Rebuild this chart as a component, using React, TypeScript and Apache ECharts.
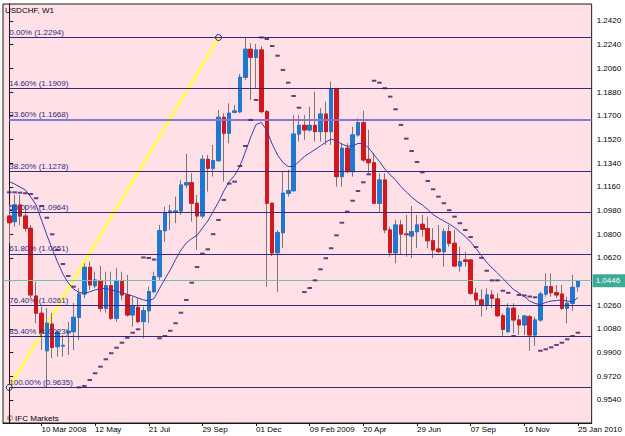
import React, { useEffect, useRef } from 'react';
import * as echarts from 'echarts';

// Weekly USDCHF bars, index 0..106
const opens = [
  1.0938, 1.0895, 1.1022, 1.0938, 1.0845, 1.0330, 1.0199, 0.9914, 1.0117, 0.9945,
  0.9950, 1.0051, 1.0059, 1.0168, 1.0345, 1.0548, 1.0408, 1.0446, 1.0237, 1.0408,
  1.0161, 1.0446, 1.0338, 1.0186, 1.0244, 1.0135, 1.0218, 1.0363, 1.0477, 1.0826,
  1.0963, 1.0971, 1.0976, 1.1174, 1.1191, 1.1035, 1.0938, 1.1369, 1.1301, 1.1358,
  1.1688, 1.1567, 1.1726, 1.1730, 1.1992, 1.2205, 1.2144, 1.2200, 1.1731, 1.1035,
  1.0659, 1.0811, 1.1111, 1.1130, 1.1561, 1.1627, 1.1592, 1.1627, 1.1579, 1.1713,
  1.1579, 1.1901, 1.1237, 1.1453, 1.1275, 1.1554, 1.1647, 1.1369, 1.1343, 1.1035,
  1.1212, 1.0832, 1.0659, 1.0870, 1.0801, 1.0786, 1.0819, 1.0875, 1.0842, 1.0750,
  1.0687, 1.0667, 1.0819, 1.0731, 1.0558, 1.0604, 1.0604, 1.0351, 1.0300, 1.0259,
  1.0338, 1.0308, 1.0180, 1.0059, 1.0237, 1.0148, 1.0110, 1.0173, 1.0034, 1.0148,
  1.0345, 1.0401, 1.0355, 1.0345, 1.0237, 1.0275, 1.0401,
];
const closes = [
  1.0887, 1.1022, 1.0938, 1.0845, 1.0338, 1.0199, 1.0051, 1.0123, 0.9940, 1.0056,
  0.9955, 1.0062, 1.0168, 1.0345, 1.0548, 1.0414, 1.0452, 1.0237, 1.0408, 1.0161,
  1.0446, 1.0338, 1.0186, 1.0254, 1.0135, 1.0218, 1.0363, 1.0477, 1.0826, 1.0959,
  1.0976, 1.0976, 1.1174, 1.1191, 1.1035, 1.0938, 1.1369, 1.1301, 1.1358, 1.1688,
  1.1567, 1.1719, 1.1736, 1.1992, 1.2205, 1.2144, 1.2200, 1.1731, 1.1035, 1.0657,
  1.0811, 1.1111, 1.1130, 1.1561, 1.1627, 1.1592, 1.1627, 1.1579, 1.1713, 1.1579,
  1.1901, 1.1237, 1.1453, 1.1275, 1.1554, 1.1647, 1.1364, 1.1343, 1.1035, 1.1212,
  1.0832, 1.0659, 1.0870, 1.0801, 1.0796, 1.0819, 1.0870, 1.0837, 1.0750, 1.0680,
  1.0667, 1.0819, 1.0731, 1.0558, 1.0591, 1.0594, 1.0351, 1.0300, 1.0259, 1.0338,
  1.0313, 1.0180, 1.0077, 1.0237, 1.0148, 1.0110, 1.0178, 1.0034, 1.0148, 1.0345,
  1.0401, 1.0355, 1.0338, 1.0237, 1.0275, 1.0396, 1.0446,
];
const lows = [
  1.0731, 1.0857, 1.0870, 1.0819, 1.0315, 1.0123, 0.9920, 0.9635, 0.9859, 0.9869,
  0.9869, 0.9882, 0.9920, 0.9996, 1.0313, 1.0376, 1.0389, 1.0211, 1.0203, 1.0148,
  1.0135, 1.0300, 1.0173, 1.0097, 1.0123, 1.0009, 1.0123, 1.0351, 1.0452, 1.0743,
  1.0832, 1.0883, 1.0946, 1.1149, 1.0895, 1.0680, 1.0920, 1.1123, 1.1237, 1.1351,
  1.1199, 1.1491, 1.1719, 1.1719, 1.1972, 1.1820, 1.1909, 1.1719, 1.0401, 1.0634,
  1.0363, 1.0693, 1.1085, 1.1123, 1.1503, 1.1516, 1.1579, 1.1503, 1.1503, 1.1478,
  1.1478, 1.1161, 1.1161, 1.1263, 1.1237, 1.1541, 1.1351, 1.1263, 1.1030, 1.0971,
  1.0807, 1.0629, 1.0579, 1.0642, 1.0629, 1.0617, 1.0693, 1.0781, 1.0693, 1.0617,
  1.0655, 1.0553, 1.0705, 1.0553, 1.0515, 1.0553, 1.0338, 1.0262, 1.0173, 1.0224,
  1.0237, 1.0173, 1.0021, 1.0051, 1.0047, 1.0034, 1.0034, 0.9914, 0.9950, 1.0135,
  1.0325, 1.0325, 1.0313, 1.0224, 1.0123, 1.0218, 1.0363,
];
const highs = [
  1.1022, 1.1098, 1.1098, 1.1022, 1.0870, 1.0439, 1.0249, 1.0239, 1.0201, 1.0072,
  1.0034, 1.0135, 1.0277, 1.0389, 1.0579, 1.0591, 1.0515, 1.0558, 1.0515, 1.0515,
  1.0541, 1.0515, 1.0490, 1.0325, 1.0313, 1.0249, 1.0401, 1.0515, 1.0870, 1.1009,
  1.1022, 1.1085, 1.1212, 1.1409, 1.1263, 1.1098, 1.1402, 1.1402, 1.1478, 1.1744,
  1.1719, 1.1795, 1.1782, 1.2017, 1.2294, 1.2251, 1.2245, 1.2230, 1.1744, 1.1040,
  1.0832, 1.1275, 1.1288, 1.1706, 1.1706, 1.1706, 1.1769, 1.1883, 1.1757, 1.1807,
  1.1959, 1.1905, 1.1491, 1.1491, 1.1617, 1.1681, 1.1738, 1.1592, 1.1415, 1.1263,
  1.1263, 1.0857, 1.0908, 1.0908, 1.0946, 1.1014, 1.0946, 1.0946, 1.0933, 1.0845,
  1.0870, 1.0845, 1.0870, 1.0832, 1.0705, 1.0667, 1.0606, 1.0389, 1.0381, 1.0389,
  1.0376, 1.0351, 1.0199, 1.0275, 1.0275, 1.0186, 1.0186, 1.0186, 1.0173, 1.0363,
  1.0503, 1.0503, 1.0414, 1.0414, 1.0325, 1.0490, 1.0452,
];
// moving average (blue line)
const maValues = [
  1.1199, 1.1181, 1.1158, 1.1136, 1.1082, 1.1022, 1.0908, 1.0794, 1.0687, 1.0588,
  1.0497, 1.0429, 1.0383, 1.0357, 1.0351, 1.0362, 1.0376, 1.0386, 1.0387, 1.0376,
  1.0366, 1.0355, 1.0343, 1.0330, 1.0315, 1.0300, 1.0294, 1.0311, 1.0387, 1.0459,
  1.0528, 1.0607, 1.0680, 1.0733, 1.0767, 1.0790, 1.0847, 1.0900, 1.0972, 1.1044,
  1.1128, 1.1200, 1.1246, 1.1318, 1.1424, 1.1538, 1.1633, 1.1649, 1.1588, 1.1485,
  1.1402, 1.1345, 1.1314, 1.1314, 1.1352, 1.1390, 1.1417, 1.1443, 1.1470, 1.1500,
  1.1523, 1.1508, 1.1485, 1.1468, 1.1470, 1.1489, 1.1489, 1.1455, 1.1402, 1.1352,
  1.1295, 1.1250, 1.1212, 1.1162, 1.1120, 1.1082, 1.1048, 1.1022, 1.0987, 1.0949,
  1.0923, 1.0900, 1.0877, 1.0851, 1.0816, 1.0782, 1.0740, 1.0691, 1.0638, 1.0585,
  1.0543, 1.0505, 1.0463, 1.0421, 1.0379, 1.0353, 1.0326, 1.0292, 1.0273, 1.0265,
  1.0281, 1.0292, 1.0296, 1.0300, 1.0292, 1.0287, 1.0319,
];
// parabolic SAR dots
const sarValues = [
  1.1118, 1.1118, 1.1115, 1.1111, 1.1105, 1.1073, 1.1014, 1.0925, 1.0799, 1.0680,
  1.0573, 1.0482, 1.0401, 0.9636, 0.9646, 0.9692, 0.9743, 0.9793, 0.9849, 0.9895,
  0.9937, 0.9975, 1.0013, 1.0051, 1.0077, 1.0623, 1.0619, 1.0607, 1.0009, 1.0026,
  1.0066, 1.0123, 1.0203, 1.0300, 1.0431, 1.0550, 1.0652, 1.0685, 1.0800, 1.0908,
  1.1060, 1.1184, 1.1199, 1.1318, 1.1470, 1.1668, 1.1820, 1.2295, 1.2283, 1.2230,
  1.2156, 1.2048, 1.1951, 1.1850, 1.1761, 1.0360, 1.0391, 1.0449, 1.0533, 1.0617,
  1.0693, 1.0791, 1.0887, 1.0971, 1.1054, 1.1128, 1.1194, 1.1255, 1.1966, 1.1951,
  1.1909, 1.1845, 1.1749, 1.1630, 1.1526, 1.1432, 1.1348, 1.1270, 1.1204, 1.1141,
  1.1085, 1.1035, 1.0982, 1.0933, 1.0883, 1.0832, 1.0778, 1.0702, 1.0620, 1.0522,
  1.0449, 1.0449, 1.0370, 1.0354, 1.0026, 1.0338, 1.0334, 1.0326, 1.0320, 0.9914,
  0.9925, 0.9940, 0.9958, 0.9975, 1.0001, 1.0026, 1.0051,
];

const fibLevels = [1.2294, 1.1909, 1.1668, 1.1278, 1.0964, 1.0651, 1.0261, 1.0023, 0.9635];
const fibLabels = [
  '0.00% (1.2294)', '14.60% (1.1909)', '23.60% (1.1668)', '38.20% (1.1278)', '50.00% (1.0964)',
  '61.80% (1.0651)', '76.40% (1.0261)', '85.40% (1.0023)', '100.00% (0.9635)',
];
const trendPoints = [[0, 0.9635], [39, 1.2294]];
const tickIndex = [6, 16, 26, 36, 46, 56, 66, 76, 86, 96, 106];
const tickLabels = [
  '10 Mar 2008', '12 May', '21 Jul', '29 Sep', '01 Dec', '09 Feb 2009',
  '20 Apr', '29 Jun', '07 Sep', '16 Nov', '25 Jan 2010',
];
const priceTicks = [
  0.954, 0.972, 0.99, 1.008, 1.026, 1.062, 1.08, 1.098, 1.116, 1.134,
  1.152, 1.17, 1.188, 1.206, 1.224, 1.242,
];
const lastPrice = 1.0446;

const X_MIN = -1.17;
const X_MAX = 108.55;
const Y_MIN = 0.9365;
const Y_MAX = 1.2549;
const FONT = '"Liberation Sans Narrow", "Liberation Sans", Arial, sans-serif';

export default function App() {
  const ref = useRef<HTMLDivElement>(null);
  useEffect(() => {
    if (!ref.current) return;
    const chart = echarts.init(ref.current, undefined, { renderer: 'svg' });
    const candleData = opens.map((o, i) => [i, o, closes[i], lows[i], highs[i]]);
    const bodyData = opens.map((o, i) => [i, o, closes[i], Math.min(o, closes[i]), Math.max(o, closes[i])]);
    const fibLineData = fibLevels.map((v, k) => [
      {
        coord: [0, v],
        label: { formatter: fibLabels[k] },
        lineStyle: k === 2 ? { color: '#8677cf', width: 2 } : undefined,
      },
      { coord: [X_MAX, v] },
    ]);
    const option: any = {
      animation: false,
      backgroundColor: '#ffffff',
      textStyle: { fontFamily: FONT },
      title: {
        text: 'USDCHF, W1',
        left: 5,
        top: 6,
        padding: 0,
        textStyle: { fontSize: 8, fontWeight: 'normal', color: '#000', fontFamily: FONT },
      },
      grid: {
        left: 3,
        right: 33,
        top: 4,
        bottom: 13,
        show: true,
        backgroundColor: '#ffe0e6',
        borderColor: '#1a1a1a',
        borderWidth: 1,
      },
      xAxis: {
        type: 'value',
        min: X_MIN,
        max: X_MAX,
        splitLine: { show: false },
        axisLine: { show: true, lineStyle: { color: '#1a1a1a' } },
        axisTick: { show: true, customValues: tickIndex, length: 3, lineStyle: { color: '#1a1a1a' } },
        axisLabel: {
          customValues: tickIndex,
          formatter: (v: number) => {
            const k = tickIndex.indexOf(Math.round(v));
            return k >= 0 ? tickLabels[k] : '';
          },
          align: 'left',
          margin: 2,
          fontSize: 8,
          color: '#000',
          fontFamily: FONT,
        },
      },
      yAxis: {
        type: 'value',
        position: 'right',
        min: Y_MIN,
        max: Y_MAX,
        splitLine: { show: false },
        axisLine: { show: true, lineStyle: { color: '#1a1a1a' } },
        axisTick: { show: true, customValues: priceTicks, length: 4, lineStyle: { color: '#1a1a1a' } },
        axisLabel: {
          customValues: priceTicks,
          formatter: (v: number) => v.toFixed(4),
          margin: 5,
          fontSize: 8,
          color: '#000',
          fontFamily: FONT,
        },
      },
      graphic: [
        {
          type: 'text',
          left: 7,
          top: 414,
          z: 100,
          style: { text: '\u00a9 IFC Markets', fontSize: 8, fill: '#000', fontFamily: FONT },
        },
      ],
      series: [
        {
          type: 'line',
          name: 'trend',
          data: trendPoints,
          z: 1,
          clip: false,
          symbol: 'circle',
          symbolSize: 6,
          itemStyle: { color: 'rgba(0,0,0,0)', borderColor: '#22287a', borderWidth: 1 },
          lineStyle: { color: '#ffff3a', width: 2.5 },
          markLine: {
            silent: true,
            symbol: ['none', 'none'],
            lineStyle: { color: '#35297a', width: 1, type: 'solid' },
            label: {
              show: true,
              position: 'insideStartTop',
              distance: [0, 1],
              fontSize: 8,
              color: '#2f2a7c',
              fontFamily: FONT,
            },
            data: fibLineData,
          },
        },
        {
          type: 'candlestick',
          name: 'wicks',
          data: candleData,
          encode: { x: 0, y: [1, 2, 3, 4] },
          barWidth: 4,
          z: 3,
          itemStyle: {
            color: '#1f78d1',
            color0: '#d3181c',
            borderColor: '#777777',
            borderColor0: '#777777',
            borderWidth: 1,
          },
        },
        {
          type: 'candlestick',
          name: 'bodies',
          data: bodyData,
          encode: { x: 0, y: [1, 2, 3, 4] },
          barWidth: 4,
          z: 4,
          itemStyle: {
            color: '#1f78d1',
            color0: '#d3181c',
            borderColor: '#1f78d1',
            borderColor0: '#d3181c',
            borderWidth: 1,
          },
        },
        {
          type: 'line',
          name: 'MA',
          data: maValues.map((v, i) => [i, v]),
          z: 5,
          clip: false,
          symbol: 'none',
          lineStyle: { color: '#3b3bb3', width: 1 },
          markLine: {
            silent: true,
            symbol: ['none', 'none'],
            lineStyle: { color: '#72c2b2', width: 1, type: 'solid' },
            label: {
              show: true,
              position: 'end',
              distance: 1,
              formatter: lastPrice.toFixed(4),
              backgroundColor: '#3aab96',
              color: '#ffffff',
              padding: [3, 6, 2, 3],
              fontSize: 8,
              fontFamily: FONT,
            },
            data: [[{ coord: [X_MIN, lastPrice] }, { coord: [X_MAX, lastPrice] }]],
          },
        },
        {
          type: 'scatter',
          name: 'SAR',
          data: sarValues.map((v, i) => [i, v]),
          z: 6,
          symbol: 'rect',
          symbolSize: [4.5, 2],
          itemStyle: { color: '#3e1560' },
        },
      ],
    };
    chart.setOption(option);
    return () => chart.dispose();
  }, []);
  return <div ref={ref} style={{ position: 'fixed', left: 0, top: 0, width: 625, height: 436 }} />;
}
